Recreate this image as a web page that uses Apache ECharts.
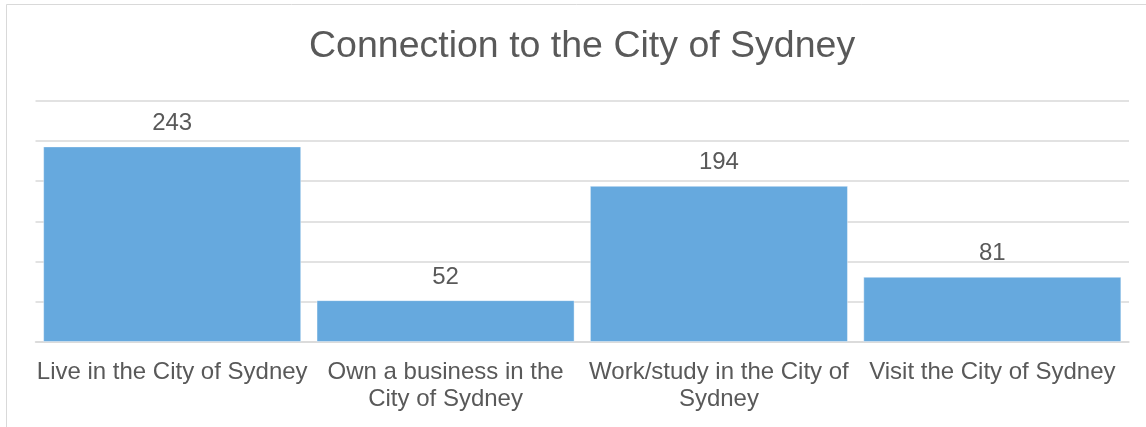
<!DOCTYPE html>
<html>
<head>
<meta charset="utf-8">
<script src="https://cdn.jsdelivr.net/npm/echarts@6/dist/echarts.min.js"></script>
<style>
html, body { margin: 0; padding: 0; background: #ffffff; }
#chart { width: 1146px; height: 427px; }
</style>
</head>
<body>
<div id="chart"></div>
<script>
const titleText = 'Connection to the City of Sydney';
const categories = [
  'Live in the City of Sydney',
  'Own a business in the\nCity of Sydney',
  'Work/study in the City of\nSydney',
  'Visit the City of Sydney'
];
const values = [243, 52, 194, 81];

const chart = echarts.init(document.getElementById('chart'));
const font = '"Liberation Sans", Arial, sans-serif';
chart.setOption({
  animation: false,
  backgroundColor: '#ffffff',
  graphic: [{
    type: 'rect',
    silent: true,
    shape: { x: 6.5, y: 4.5, width: 1300, height: 1000 },
    style: { fill: 'none', stroke: '#d9d9d9', lineWidth: 1 }
  }],
  title: {
    text: titleText,
    left: 309,
    top: 28,
    padding: 0,
    textStyle: { fontFamily: font, fontSize: 37.5, fontWeight: 'normal', color: '#595959' }
  },
  grid: { left: 35.5, right: 17, top: 100.5, bottom: 85, containLabel: false },
  xAxis: {
    type: 'category',
    data: categories,
    axisLine: { lineStyle: { color: '#d9d9d9', width: 1.5 } },
    axisTick: { show: false },
    axisLabel: {
      interval: 0,
      margin: 17,
      fontFamily: font,
      fontSize: 24,
      lineHeight: 27,
      color: '#595959',
      align: 'center'
    }
  },
  yAxis: {
    type: 'value',
    min: 0,
    max: 300,
    interval: 50,
    axisLabel: { show: false },
    axisLine: { show: false },
    axisTick: { show: false },
    splitLine: { lineStyle: { color: '#d9d9d9', width: 1.5 } }
  },
  series: [{
    type: 'bar',
    data: values,
    barCategoryGap: '5.6%',
    itemStyle: { color: '#66a9de', borderColor: 'rgba(255,255,255,0.4)', borderWidth: 1 },
    label: {
      show: true,
      position: 'top',
      distance: 11,
      fontFamily: font,
      fontSize: 24,
      color: '#595959'
    }
  }]
});
</script>
</body>
</html>
